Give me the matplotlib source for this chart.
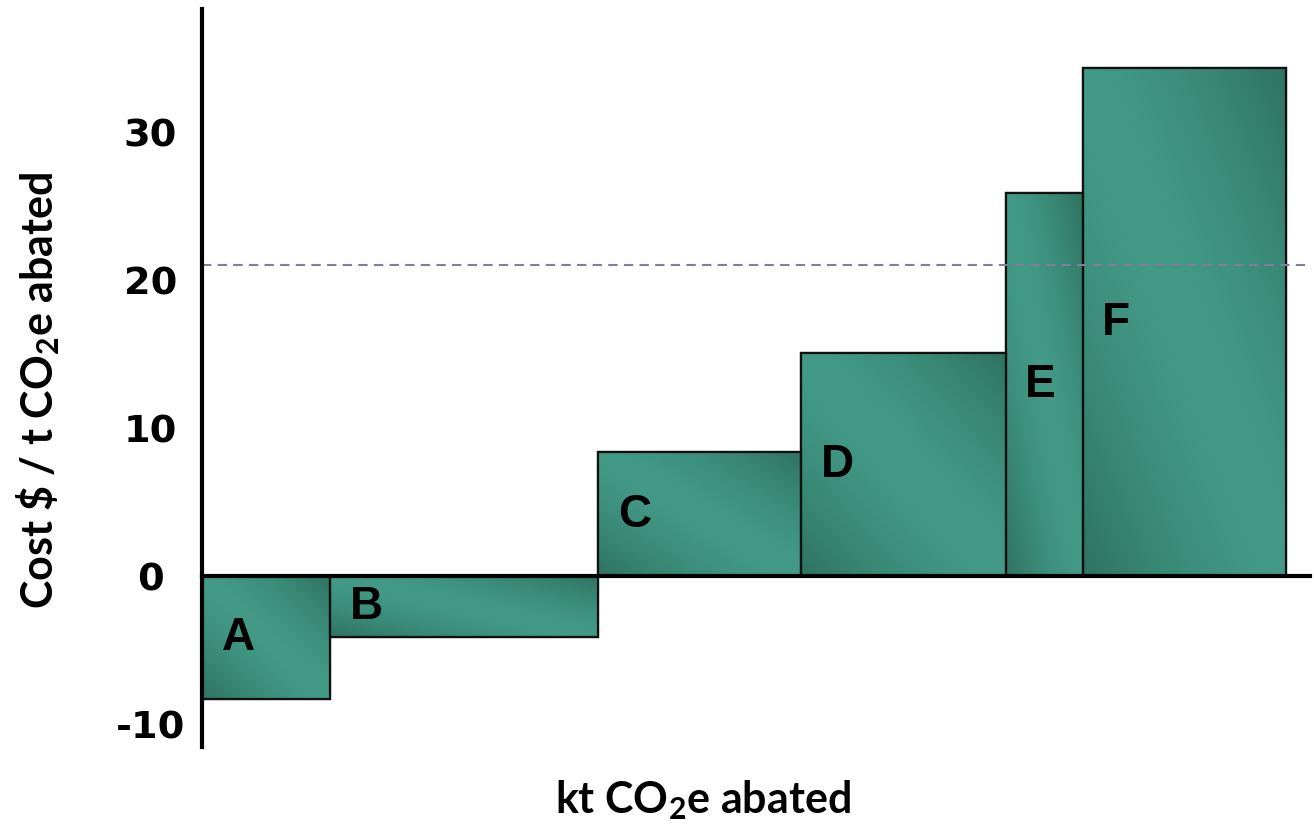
import numpy as np
import matplotlib
matplotlib.use("Agg")
import matplotlib.pyplot as plt

plt.rcParams['mathtext.fontset'] = 'custom'
plt.rcParams['mathtext.rm'] = 'Lato:bold'
plt.rcParams['mathtext.default'] = 'rm'

# abatement options: width = kt CO2e abated, height = cost $/t
options = ['A', 'B', 'C', 'D', 'E', 'F']
widths = [1.25, 2.62, 1.98, 2.0, 0.75, 1.99]
costs = [-8.3, -4.1, 8.4, 15.1, 25.9, 34.3]
carbon_price = 21.0
yticks = [-10, 0, 10, 20, 30]

light = np.array([66, 154, 135]) / 255.
dark = np.array([47, 114, 98]) / 255.

fig = plt.figure(figsize=(13.14, 8.29), dpi=100)
ax = fig.add_axes([202/1314, 1-748/829, (1310-202)/1314, (748-10)/829])

lefts = np.concatenate([[0], np.cumsum(widths)[:-1]])
bars = ax.bar(lefts, costs, width=widths, align='edge', color=light,
              edgecolor='#111111', linewidth=1.6, zorder=3)

# diagonal reflected gradient inside every bar
n = 200
gx, gy = np.meshgrid(np.linspace(0, 1, n), np.linspace(0, 1, n))
u = np.clip(np.abs((gx - 0.5) + (gy - 0.5)), 0, 1) ** 1.5
grad = light[None, None, :] + (dark - light)[None, None, :] * u[:, :, None]

for x0, w, c, b in zip(lefts, widths, costs, bars):
    y0, y1 = min(0, c), max(0, c)
    im = ax.imshow(grad, extent=(x0, x0 + w, y0, y1), origin='lower',
                   aspect='auto', interpolation='bilinear', zorder=3.5)
    im.set_clip_path(b)
    outline = plt.Rectangle((x0, y0), w, y1 - y0, fill=False,
                            edgecolor='#111111', linewidth=1.6, zorder=4)
    ax.add_patch(outline)

for x0, c, name in zip(lefts, costs, options):
    ax.text(x0 + 0.19, c / 2, name, ha='left', va='center', fontsize=33,
            fontweight='bold', family='Liberation Sans', zorder=6)

ax.axhline(carbon_price, color='#7c8198', linewidth=1.5, dashes=(4.5, 3), zorder=5)

total = 1108 / 102.4
ax.set_xlim(0, total)
ax.set_ylim(-(748-577)/14.8, (577-10)/14.8)

for s in ['top', 'right']:
    ax.spines[s].set_visible(False)
ax.spines['bottom'].set_position(('data', 0))
ax.spines['bottom'].set_linewidth(3)
ax.spines['left'].set_linewidth(3)
ax.spines['bottom'].set_zorder(7)
ax.spines['left'].set_zorder(7)

ax.set_xticks([])
ax.set_yticks(yticks)
ax.set_yticklabels([str(t) for t in yticks], fontsize=27.5, fontweight='bold',
                   family='DejaVu Sans')
for lab in ax.get_yticklabels():
    lab.set_ha('center')
ax.tick_params(axis='y', length=0, pad=37)

fig.text(38/1314, 1-390/829, 'Cost \\$ / t CO$_2$e abated', rotation=90,
         ha='center', va='center', fontsize=31, fontweight='bold', family='Lato')
fig.text(703/1314, 1-800/829, 'kt CO$_2$e abated', ha='center', va='center',
         fontsize=31, fontweight='bold', family='Lato')

fig.savefig('out.png', dpi=100)
